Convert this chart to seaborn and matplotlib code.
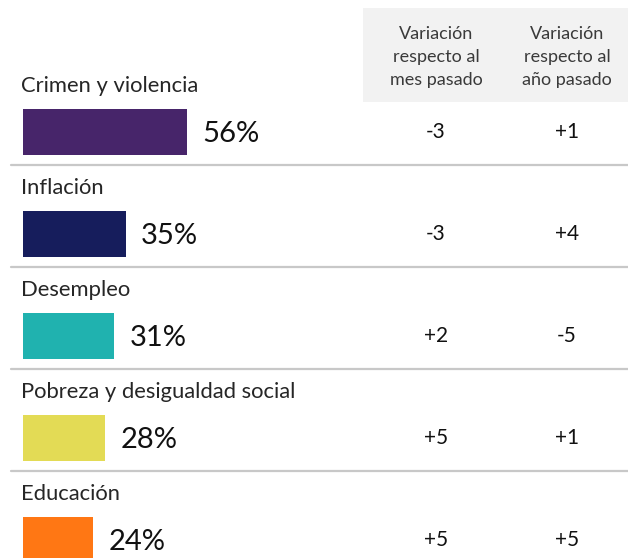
import matplotlib
matplotlib.use("Agg")
import matplotlib.pyplot as plt
import seaborn as sns
import pandas as pd
from matplotlib.patches import Rectangle

categories = ["Crimen y violencia", "Inflación", "Desempleo",
              "Pobreza y desigualdad social", "Educación"]
values = [56, 35, 31, 28, 24]
var_mes = ["-3", "-3", "+2", "+5", "+5"]
var_anio = ["+1", "+4", "-5", "+1", "+5"]
colors = ["#47256A", "#161D5C", "#20B2AF", "#E3DB55", "#FF7714"]
header_mes = "Variación\nrespecto al\nmes pasado"
header_anio = "Variación\nrespecto al\naño pasado"

sns.set_theme(style="white")
plt.rcParams["font.family"] = ["Lato", "DejaVu Sans"]

W, H = 628, 558
fig = plt.figure(figsize=(W / 100, H / 100), dpi=100)
ax = fig.add_axes([0, 0, 1, 1])

df = pd.DataFrame({"cat": categories, "val": values})
sns.barplot(data=df, x="val", y="cat", hue="cat", palette=colors,
            legend=False, width=0.45, orient="h", ax=ax, saturation=1,
            linewidth=0)

x0_px, px_per = 23, 2.93
row0_px, row_px = 132, 102
ax.set_xlim(-x0_px / px_per, (W - x0_px) / px_per)
ax.set_ylim((H - row0_px) / row_px, -row0_px / row_px)
ax.axis("off")

# header box
ax.add_patch(Rectangle((363 / W, 1 - 102 / H), 1 - 363 / W, 94 / H,
                       transform=ax.transAxes, facecolor="#F2F2F2",
                       edgecolor="none", zorder=0))
txt_col = "#262626"
hdr_col = "#3A3A3A"
for xp, t in [(436, header_mes), (567, header_anio)]:
    ax.text(xp / W, 1 - 57 / H, t, transform=ax.transAxes, ha="center",
            va="center", fontsize=13, color=hdr_col, linespacing=1.55)

tr = ax.get_yaxis_transform()
for i, (c, v, m, a) in enumerate(zip(categories, values, var_mes, var_anio)):
    ax.text(21 / W, i - 0.45, c, transform=tr, ha="left", va="center",
            fontsize=15.8, color=txt_col)
    ax.text(v + 5.3, i + 0.02, f"{v}%", ha="left", va="center",
            fontsize=21, color="#111111")
    ax.text(436 / W, i, m, transform=tr, ha="center", va="center",
            fontsize=15, color="#111111")
    ax.text(567 / W, i, a, transform=tr, ha="center", va="center",
            fontsize=15, color="#111111")
    if i < len(categories) - 1:
        ax.axhline(i + 0.325, xmin=11 / W, xmax=1, color="#C8C8C8",
                   linewidth=1.6)

fig.savefig("out.png", dpi=100)
